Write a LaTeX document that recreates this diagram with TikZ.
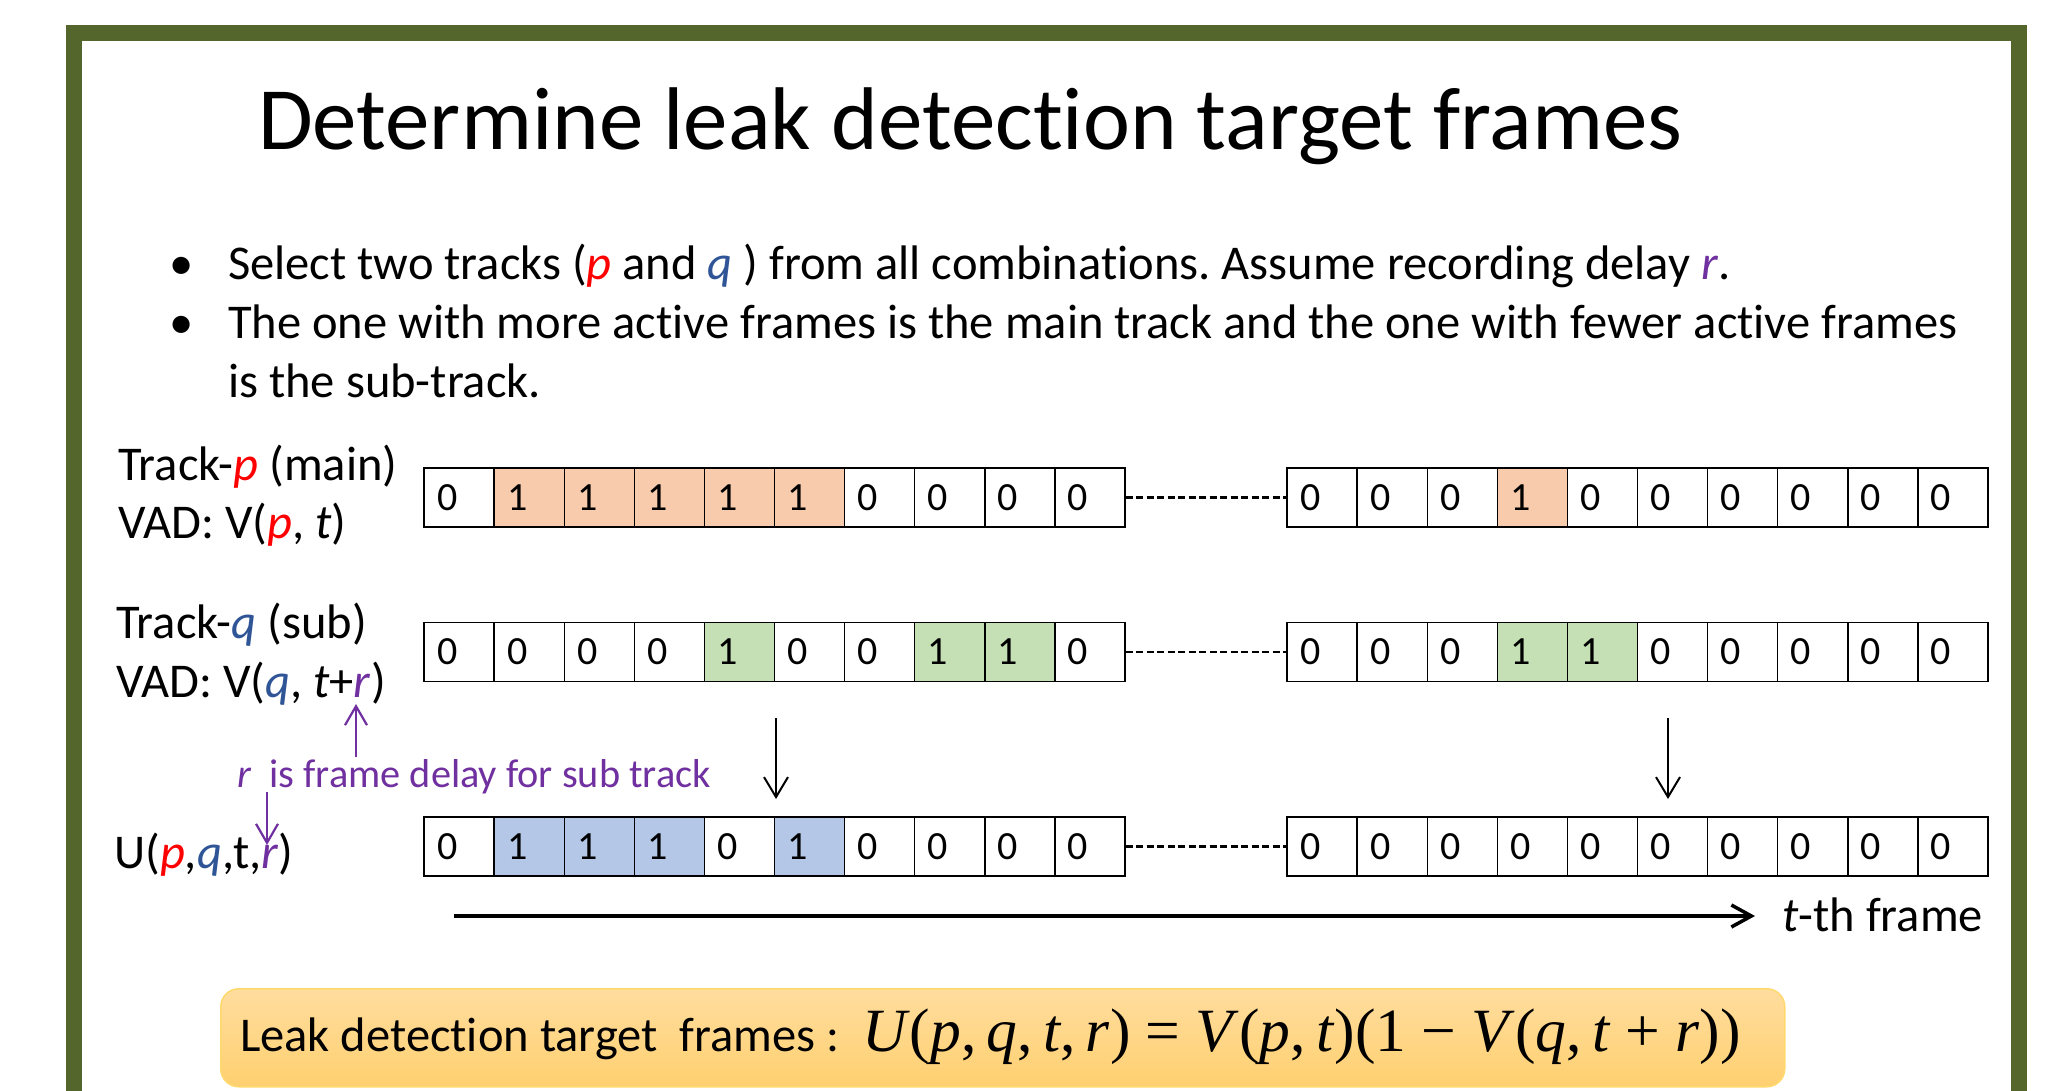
\documentclass[tikz,border=0pt]{standalone}
\usepackage{fontspec}
\setmainfont{Carlito}[Ligatures={NoCommon}]
\newfontfamily\formfont{Liberation Serif}
\usetikzlibrary{arrows.meta}
\frenchspacing
\definecolor{frameolive}{RGB}{84,102,44}
\definecolor{pred}{RGB}{255,0,0}
\definecolor{qblue}{RGB}{47,85,151}
\definecolor{rpurple}{RGB}{112,48,160}
\definecolor{onOrange}{RGB}{248,203,173}
\definecolor{onGreen}{RGB}{197,224,180}
\definecolor{onBlue}{RGB}{180,199,231}
\definecolor{boxTop}{RGB}{255,221,158}
\definecolor{boxBot}{RGB}{255,208,112}
\definecolor{boxLine}{RGB}{255,217,110}
\newcommand\pv{\textcolor{pred}{\textit{p}}}
\newcommand\qv{\textcolor{qblue}{\textit{q}}}
\newcommand\rv{\textcolor{rpurple}{\textit{r}}}
\newcommand\cellrow[4]{\foreach \v [count=\i] in {#4} {\node[cell, st\v] (#1-\i) at ({#2+(\i-0.5)*70.1}, #3) {\v};}}
\begin{document}
\begin{tikzpicture}[x=1pt,y=-1pt,
  lbl/.style={anchor=base west, inner sep=0pt, font=\fontsize{48.5}{58}\selectfont},
  cell/.style={draw=black, line width=1.4pt, minimum width=70.1pt, minimum height=59pt,
    text width=44.1pt, align=left, inner xsep=0pt, inner ysep=0pt, font=\fontsize{40}{48}\selectfont},
  st0/.style={fill=white},
  dashline/.style={line width=2.2pt, dash pattern=on 7pt off 3.5pt},
  blkarrow/.style={line width=2pt, -{Straight Barb[length=20pt,width=24pt]}},
  longarrow/.style={line width=3.5pt, -{Straight Barb[length=20pt,width=22pt]}},
  purparrow/.style={rpurple, line width=2.2pt, -{Straight Barb[length=19pt,width=22pt]}}]
\useasboundingbox (0,0) rectangle (2051,1091);
\fill[white] (0,0) rectangle (2051,1091);
% frame
\fill[frameolive] (66,25) rectangle (2027,1091);
\fill[white] (82,41) rectangle (2011,1091);
% title
\node[anchor=base west, inner sep=0pt, font=\fontsize{89}{100}\selectfont] (title) at (258,150) {Determine leak detection target frames};
% bullets
\node[anchor=base, inner sep=0pt, font=\fontsize{48.5}{58}\selectfont] (b1) at (182,280) {•};
\node[anchor=base, inner sep=0pt, font=\fontsize{48.5}{58}\selectfont] (b2) at (182,338) {•};
\node[lbl] (l1) at (228,280) {Select two tracks (\pv{} and \qv{} ) from all combinations. Assume recording delay \rv.};
\node[lbl] (l2) at (228,338) {The one with more active frames is the main track and the one with fewer active frames};
\node[lbl] (l3) at (228,397) {is the sub-track.};
% row labels
\node[lbl] (tp) at (118,480) {Track-\pv{} (main)};
\node[lbl] (vp) at (118,538) {VAD: V(\pv, \textit{t})};
\node[lbl] (tq) at (116,638) {Track-\qv{} (sub)};
\node[lbl] (vq) at (116,697) {VAD: V(\qv, \textit{t}+\rv)};
\node[lbl] (ul) at (114,868) {U(\pv,\qv,t,\rv)};
\node[anchor=base west, inner sep=0pt, text=rpurple, font=\fontsize{40.3}{48}\selectfont] (rnote) at (237,787) {\textit{r}\ \ is frame delay for sub track};
% cells
\begin{scope}[st1/.style={fill=onOrange}]
\cellrow{pa}{424}{497.5}{0,1,1,1,1,1,0,0,0,0}
\cellrow{pb}{1287}{497.5}{0,0,0,1,0,0,0,0,0,0}
\end{scope}
\begin{scope}[st1/.style={fill=onGreen}]
\cellrow{qa}{424}{652}{0,0,0,0,1,0,0,1,1,0}
\cellrow{qb}{1287}{652}{0,0,0,1,1,0,0,0,0,0}
\end{scope}
\begin{scope}[st1/.style={fill=onBlue}]
\cellrow{ua}{424}{846.5}{0,1,1,1,0,1,0,0,0,0}
\cellrow{ub}{1287}{846.5}{0,0,0,0,0,0,0,0,0,0}
\end{scope}
\draw[dashline] (pa-10.east) -- (pb-1.west);
\draw[dashline] (qa-10.east) -- (qb-1.west);
\draw[dashline] (ua-10.east) -- (ub-1.west);
% arrows
\coordinate (d1s) at (776,718); \coordinate (d1e) at (776,799);
\coordinate (d2s) at (1668,718); \coordinate (d2e) at (1668,799);
\draw[blkarrow] (d1s) -- (d1e);
\draw[blkarrow] (d2s) -- (d2e);
\coordinate (ts) at (454,916); \coordinate (te) at (1755,916);
\draw[longarrow] (ts) -- (te);
\node[lbl] (tth) at (1782,931) {\textit{t}-th frame};
\coordinate (ups) at (356,757); \coordinate (upe) at (356,704);
\coordinate (dns) at (267,792); \coordinate (dne) at (267,845);
\draw[purparrow] (ups) -- (upe);
\draw[purparrow] (dns) -- (dne);
% formula box
\node[draw=boxLine, line width=1.5pt, top color=boxTop, bottom color=boxBot, rounded corners=18pt,
  minimum width=1564pt, minimum height=98pt, inner sep=0pt, anchor=north west] (fbox) at (220,988) {};
\node[lbl] (ftext) at (240,1051) {Leak detection target\ \ frames :};
\node[anchor=base west, inner sep=0pt, font=\formfont\fontsize{61.5}{70}\selectfont] (form) at (862,1051)
  {\textit{U}(\textit{p},\,\textit{q},\,\textit{t},\,\textit{r}) = \textit{V}(\textit{p},\,\textit{t})(1 − \textit{V}(\textit{q},\,\textit{t} + \textit{r}))};
\end{tikzpicture}
\end{document}
